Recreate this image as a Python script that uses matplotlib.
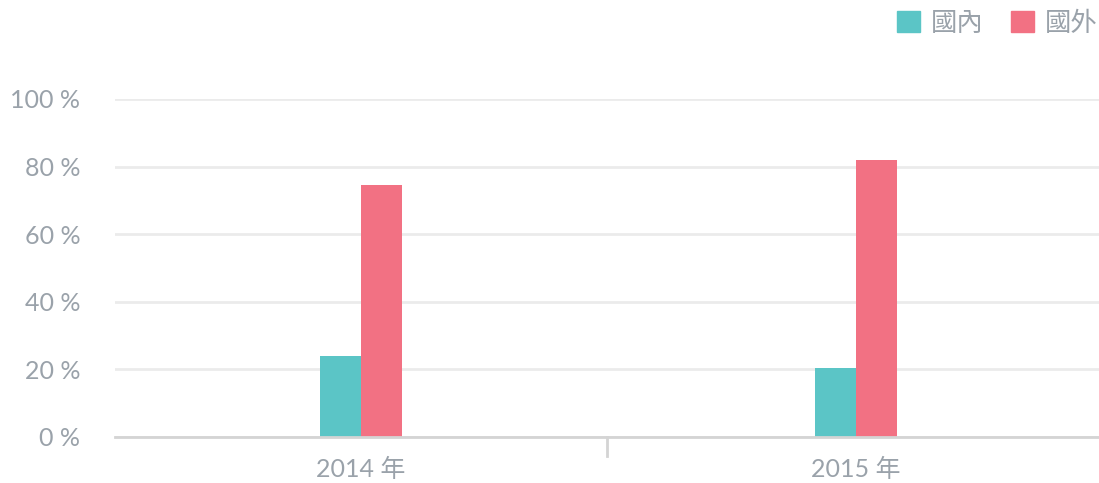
import matplotlib
matplotlib.use('Agg')
import matplotlib.pyplot as plt
import numpy as np
from matplotlib.patches import Patch

plt.rcParams['font.family'] = ['Lato', 'Noto Sans CJK TC', 'DejaVu Sans']

years = ['2014 年', '2015 年']
domestic = [24.0, 20.4]
foreign = [74.6, 82.0]
series_names = ['國內', '國外']
yticks = [0, 20, 40, 60, 80, 100]
ytick_labels = ['{} %'.format(v) for v in yticks]

teal = '#5bc5c6'
red = '#f27183'
txt = '#9aa2aa'

fig = plt.figure(figsize=(10.99, 4.83), dpi=100)
ax = fig.add_axes([115 / 1099, 46 / 483, 984 / 1099, 338 / 483])

x = np.arange(len(years))
w = 0.083
ax.bar(x - w / 2, domestic, w, color=teal, zorder=3)
ax.bar(x + w / 2, foreign, w, color=red, zorder=3)

ax.set_xlim(-0.497, 1.491)
ax.set_ylim(0, 100)
ax.set_yticks(yticks)
ax.set_yticklabels(ytick_labels)
ax.set_xticks(x)
ax.set_xticklabels(years)

for s in ['top', 'right', 'left']:
    ax.spines[s].set_visible(False)
ax.spines['bottom'].set_color('#d4d4d4')
ax.spines['bottom'].set_linewidth(2)
ax.spines['bottom'].set_zorder(4)

ax.yaxis.grid(True, color='#ebebeb', linewidth=2, zorder=0)
ax.tick_params(axis='y', length=0, pad=25, labelsize=18, labelcolor=txt)
ax.tick_params(axis='x', length=0, pad=15, labelsize=18, labelcolor=txt)

# separator tick between categories
ax.plot([0.497, 0.497], [0, -0.056], color='#d4d4d4', linewidth=2,
        transform=ax.get_xaxis_transform(), clip_on=False)

handles = [Patch(color=teal), Patch(color=red)]
fig.legend(handles, series_names, loc='upper right', bbox_to_anchor=(1.0, 0.98),
           ncol=2, frameon=False, fontsize=19, labelcolor=txt,
           handlelength=0.85, handleheight=0.85, handletextpad=0.42,
           columnspacing=1.05, borderpad=0, borderaxespad=0.05)

plt.savefig('out.png', dpi=100)
